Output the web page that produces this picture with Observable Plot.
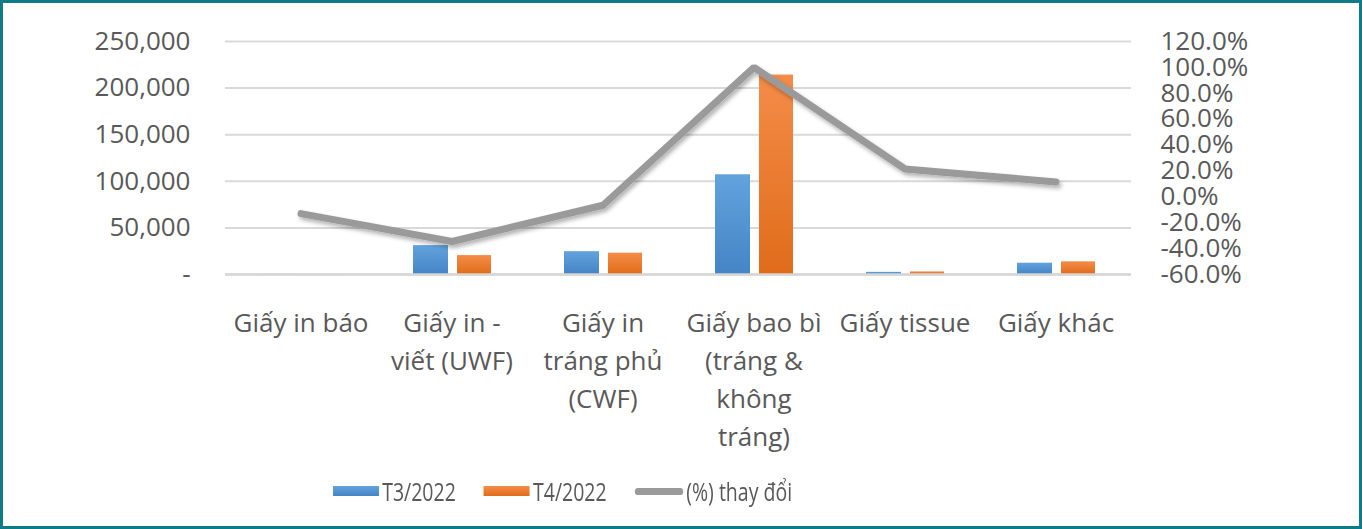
<!DOCTYPE html>
<html>
<head>
<meta charset="utf-8">
<script src="https://cdn.jsdelivr.net/npm/d3@7"></script>
<script src="https://cdn.jsdelivr.net/npm/@observablehq/plot@0.6"></script>
<style>
  html, body { margin: 0; padding: 0; background: #fff; }
  #frame {
    box-sizing: border-box; width: 1362px; height: 529px;
    border: 3px solid #0f7a88; position: relative; overflow: hidden;
    font-family: "Open Sans", sans-serif; color: #595959;
  }
  #legend {
    position: absolute; left: 330px; top: 470px; height: 36px;
    display: flex; align-items: center; font-size: 25px; color: #595959;
    transform: scaleX(0.78); transform-origin: left center; white-space: nowrap;
  }
  .item { display: flex; align-items: center; margin-right: 36px; }
  .sw { width: 59px; height: 10px; margin-right: 4px; }
  .ln { width: 62px; height: 7px; border-radius: 4px; background: #9a9a9a; margin-right: 4px; }
</style>
</head>
<body>
<div id="frame">
  <div id="chart"></div>
  <div id="legend"></div>
</div>
<script>
const categories = ["Giấy in báo", "Giấy in - viết (UWF)", "Giấy in tráng phủ (CWF)", "Giấy bao bì (tráng & không tráng)", "Giấy tissue", "Giấy khác"];
const tickLabels = ["Giấy in báo", "Giấy in -\nviết (UWF)", "Giấy in\ntráng phủ\n(CWF)", "Giấy bao bì\n(tráng &\nkhông\ntráng)", "Giấy tissue", "Giấy khác"];
const t3 = [250, 31000, 24500, 107000, 2300, 12100];
const t4 = [220, 20300, 22900, 214000, 2800, 13600];
const change = [-13, -34.5, -6.5, 100, 21.5, 11.5]; // percent
const leftTicks = [0, 50000, 100000, 150000, 200000, 250000];
const rightTicks = [-60, -40, -20, 0, 20, 40, 60, 80, 100, 120];
const seriesNames = ["T3/2022", "T4/2022", "(%) thay đổi"];

const rows = categories.map((c, i) => ({cat: c, t3: t3[i], t4: t4[i], pct: change[i]}));
const y2 = d3.scaleLinear([-60, 120], [0, 250000]);
const fmtLeft = d => d === 0 ? "-" : d3.format(",")(d);
const fmtRight = d => d.toFixed(1) + "%";
const labelOf = d => tickLabels[categories.indexOf(d)];

const defs = () => {
  const g = d3.create("svg:defs");
  const mk = (id, top, bot) => {
    const lg = g.append("linearGradient").attr("id", id).attr("x1", 0).attr("y1", 0).attr("x2", 0).attr("y2", 1);
    lg.append("stop").attr("offset", "0%").attr("stop-color", top);
    lg.append("stop").attr("offset", "100%").attr("stop-color", bot);
  };
  mk("gBlue", "#62a2dd", "#4585c6");
  mk("gOrange", "#f48c48", "#e06c1a");
  const f = g.append("filter").attr("id", "shadow").attr("x", "-10%").attr("y", "-20%").attr("width", "130%").attr("height", "160%");
  f.append("feDropShadow").attr("dx", 2).attr("dy", 3).attr("stdDeviation", 2).attr("flood-color", "#000").attr("flood-opacity", 0.3);
  return g.node();
};

const chart = Plot.plot({
  width: 1356,
  height: 460,
  marginLeft: 222,
  marginRight: 228,
  marginTop: 38,
  marginBottom: 189,
  style: {fontFamily: "Open Sans, sans-serif", fontSize: "26px", color: "#595959", background: "transparent"},
  x: {domain: categories, padding: 0, axis: null},
  y: {domain: [0, 250000], axis: null},
  marks: [
    defs,
    Plot.gridY(leftTicks, {stroke: "#d9d9d9", strokeOpacity: 1, strokeWidth: 2}),
    Plot.barY(rows, {x: "cat", y: "t3", fill: "url(#gBlue)", insetLeft: 37, insetRight: 79}),
    Plot.barY(rows, {x: "cat", y: "t4", fill: "url(#gOrange)", insetLeft: 81, insetRight: 36}),
    Plot.ruleY([0], {stroke: "#d6d6d6", strokeWidth: 2.5}),
    Plot.line(rows, {x: "cat", y: d => y2(d.pct), stroke: "#9a9a9a", strokeWidth: 7, strokeLinecap: "round", strokeLinejoin: "miter"}),
    Plot.axisY(leftTicks, {anchor: "left", tickSize: 0, tickPadding: 35, tickFormat: fmtLeft, fontSize: 26, label: null}),
    Plot.axisY(rightTicks, {anchor: "right", y: y2, tickSize: 0, tickPadding: 29, tickFormat: fmtRight, fontSize: 26, label: null}),
    Plot.axisX({anchor: "bottom", tickSize: 0, tickPadding: 31, tickFormat: labelOf, fontSize: 26, lineHeight: 1.46, label: null})
  ]
});
d3.select(chart).selectAll("g[aria-label='line'] path").attr("filter", "url(#shadow)");
document.getElementById("chart").appendChild(chart);

const legend = document.getElementById("legend");
const swFill = ["linear-gradient(#62a2dd,#4585c6)", "linear-gradient(#f48c48,#e06c1a)"];
seriesNames.forEach((name, i) => {
  const it = document.createElement("div");
  it.className = "item";
  const s = document.createElement("div");
  if (i < 2) { s.className = "sw"; s.style.background = swFill[i]; }
  else { s.className = "ln"; }
  it.appendChild(s);
  const t = document.createElement("span");
  t.textContent = name;
  it.appendChild(t);
  legend.appendChild(it);
});
</script>
</body>
</html>
